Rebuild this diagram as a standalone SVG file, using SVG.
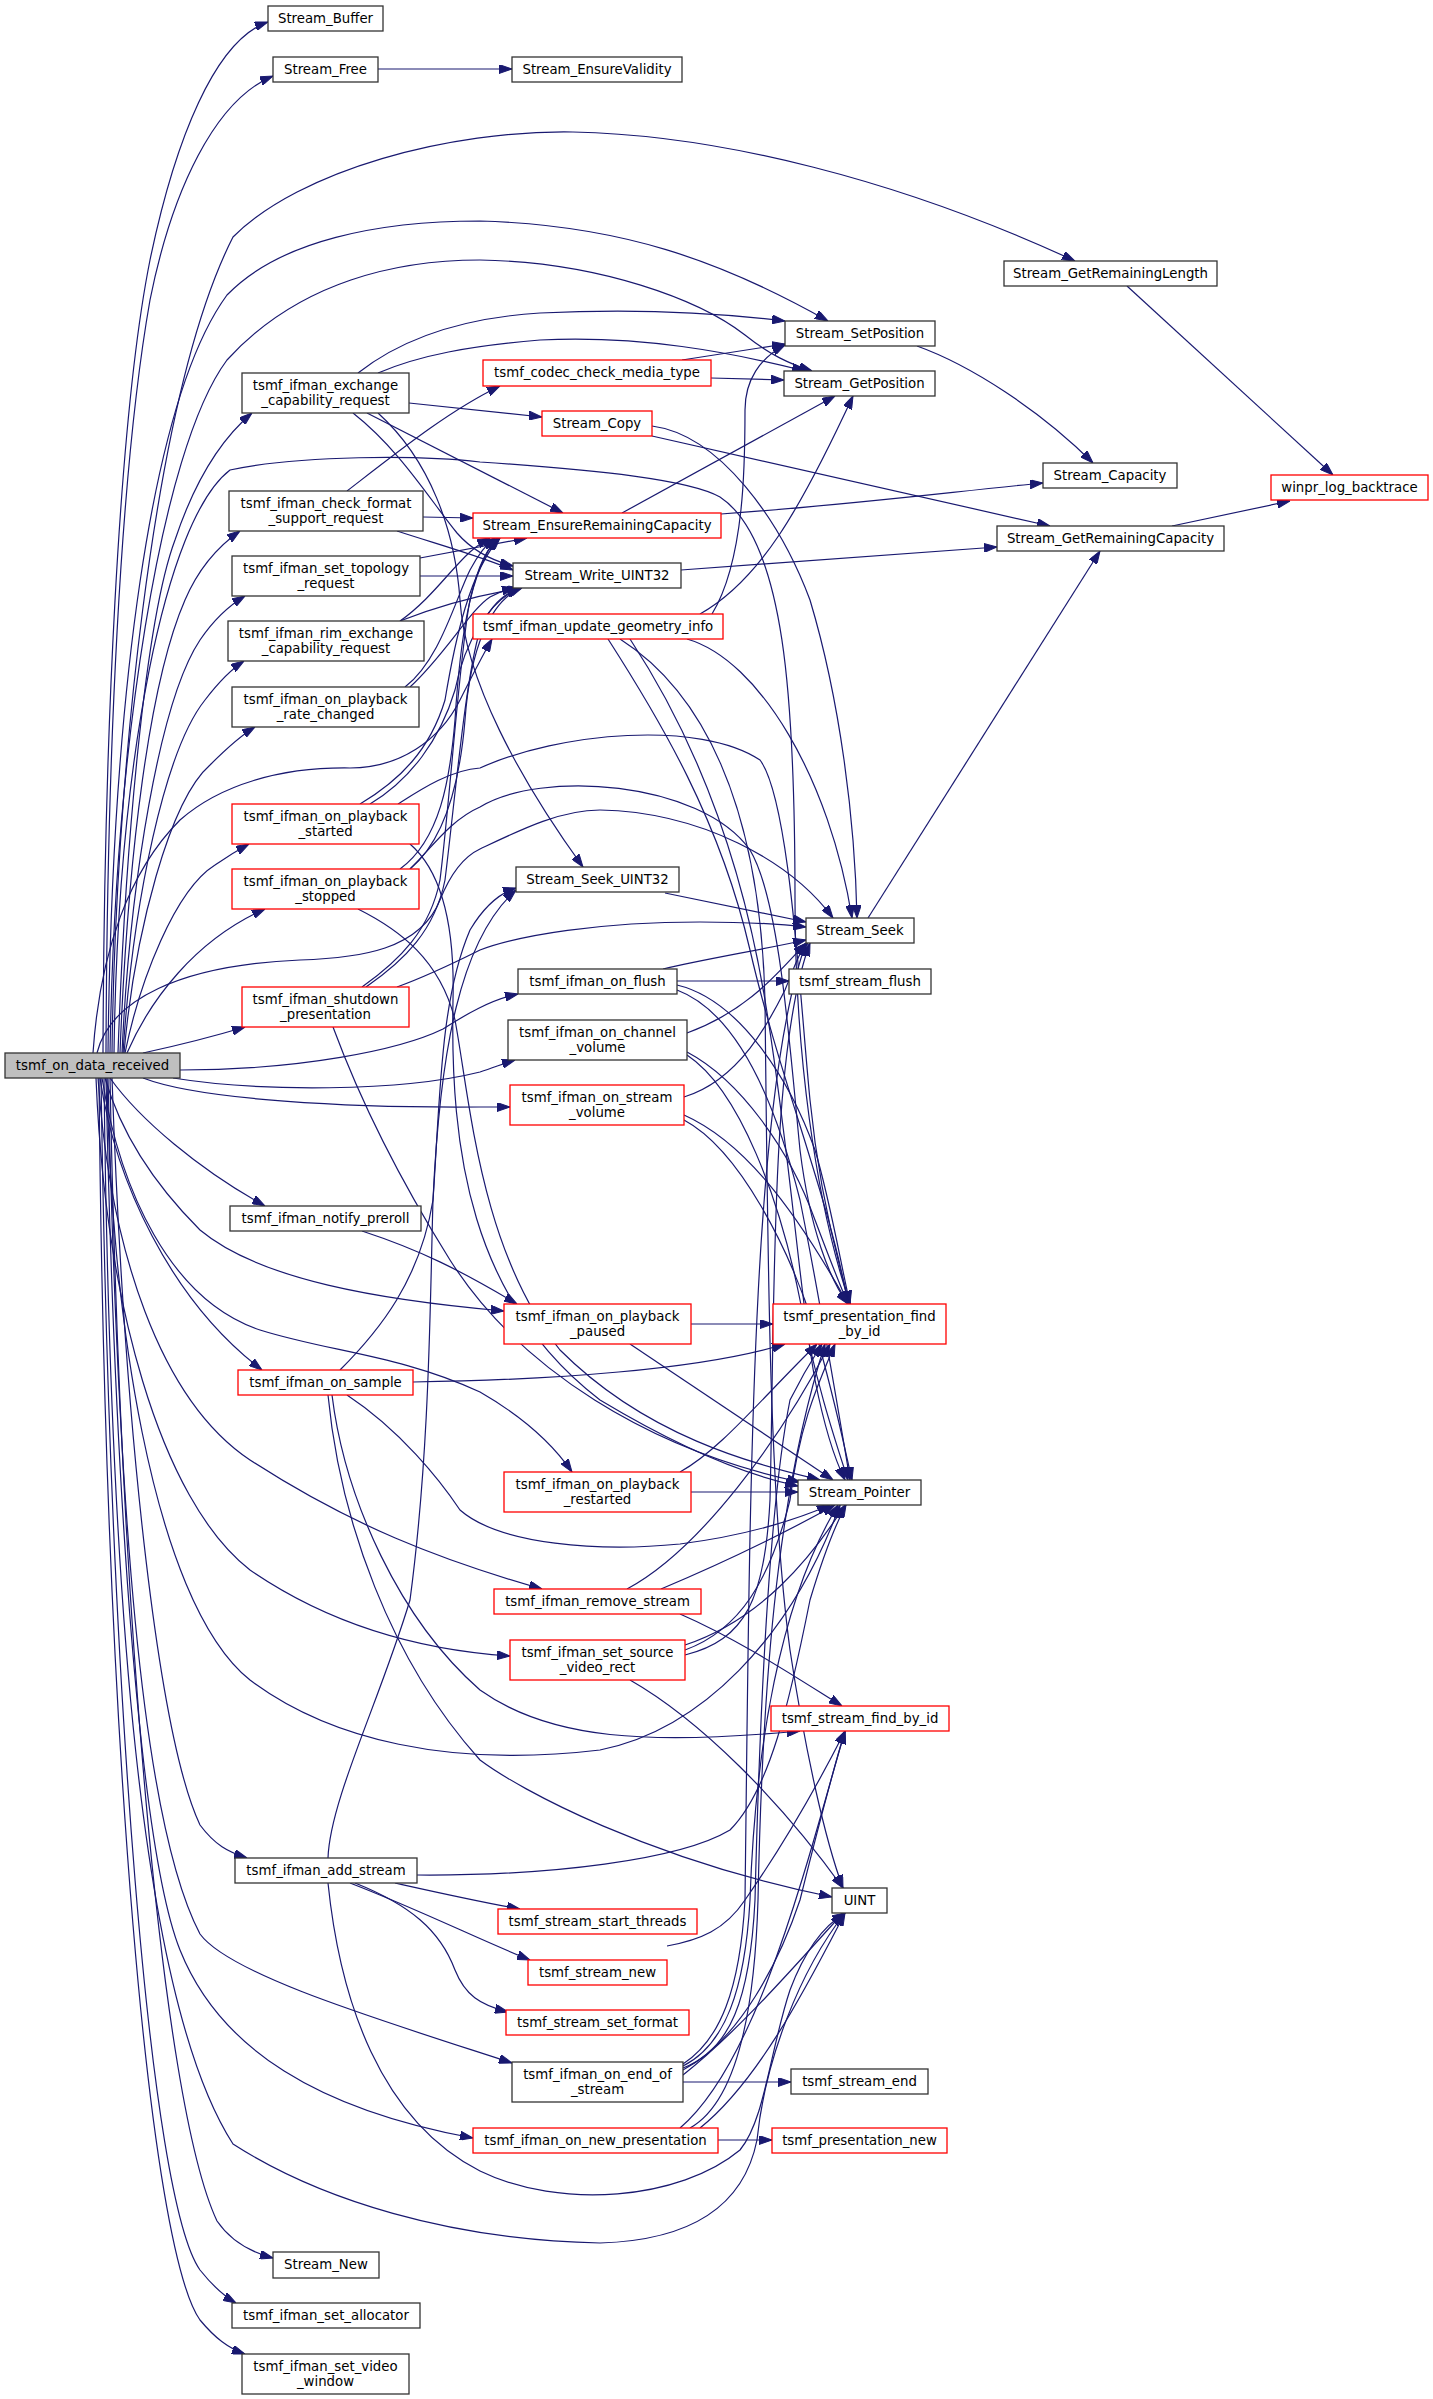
<svg xmlns="http://www.w3.org/2000/svg" width="1433" height="2399" viewBox="0 0 1433 2399">
<style>
.e{fill:none;stroke:#191970;stroke-width:1.2;marker-end:url(#a)}
.n rect{fill:#fff;stroke:#333;stroke-width:1.3}
.r rect{fill:#fff;stroke:#ff0000;stroke-width:1.3}
.g rect{fill:#bfbfbf;stroke:#333;stroke-width:1.3}
text{font-family:"DejaVu Sans","Liberation Sans",sans-serif;font-size:13.3px;text-anchor:middle;fill:#000}
</style>
<defs>
<marker id="a" markerWidth="13" markerHeight="9" refX="13" refY="4.5" orient="auto" markerUnits="userSpaceOnUse"><path d="M0,0 L13,4.5 L0,9 z" fill="#191970" stroke="#191970" stroke-width="1"/></marker>
</defs>
<rect x="0" y="0" width="1433" height="2399" fill="#fff"/>
<g id="edges">
<path class="e" d="M103,1053 C104,750 118,420 150,260 C175,140 215,40 268,22"/>
<path class="e" d="M106,1053 C107,760 120,470 150,300 C172,190 215,100 273,76"/>
<path class="e" d="M112,1053 C115,800 150,400 233,237 C300,170 450,130 573,132 C720,135 900,180 1075,261"/>
<path class="e" d="M108,1053 C112,700 150,400 227,295 C280,240 380,221 480,221 C620,225 720,260 828,321"/>
<path class="e" d="M110,1053 C115,750 160,450 227,360 C300,280 400,260 480,260 C600,262 700,300 745,335 C770,355 790,364 812,371"/>
<path class="e" d="M118,1053 C125,850 145,620 175,540 C195,480 220,440 252,413"/>
<path class="e" d="M120,1053 C128,850 150,680 185,600 C200,565 220,545 240,531"/>
<path class="e" d="M122,1053 C130,880 160,700 200,640 C215,618 230,605 245,596"/>
<path class="e" d="M123,1053 C133,900 165,750 205,700 C218,683 230,670 244,661"/>
<path class="e" d="M124,1053 C135,930 170,800 210,765 C225,750 240,736 255,727"/>
<path class="e" d="M125,1053 C140,980 175,890 215,865 C228,856 238,850 249,844"/>
<path class="e" d="M127,1053 C150,1000 195,940 265,909"/>
<path class="e" d="M143,1053 C180,1045 215,1036 245,1027"/>
<path class="e" d="M93,1053 C100,950 130,870 180,820 C220,785 280,767 350,768 C400,768 440,740 460,700 C470,680 480,660 492,639"/>
<path class="e" d="M114,1053 C118,760 165,520 230,470 C300,455 420,455 480,462 C600,470 690,480 720,497 C785,540 795,700 795,900 C795,1050 815,1200 850,1304"/>
<path class="e" d="M97,1053 C110,1000 180,965 300,960 C360,958 420,950 440,900 C452,870 465,856 480,849 C520,830 560,810 600,810 C700,812 790,860 833,918"/>
<path class="e" d="M180,1070 C300,1070 400,1050 443,1029 C465,1015 490,1000 518,994"/>
<path class="e" d="M173,1078 C260,1092 400,1092 480,1072 C495,1067 505,1063 515,1060"/>
<path class="e" d="M143,1078 C200,1100 350,1108 480,1107 L510,1107"/>
<path class="e" d="M110,1078 C140,1120 200,1170 265,1206"/>
<path class="e" d="M105,1078 C120,1130 150,1180 200,1230 C260,1280 380,1300 504,1311"/>
<path class="e" d="M100,1078 C115,1180 170,1300 262,1370"/>
<path class="e" d="M102,1078 C120,1190 170,1300 260,1330 C330,1352 400,1355 480,1392 C520,1415 550,1440 572,1472"/>
<path class="e" d="M98,1078 C110,1250 160,1400 250,1460 C350,1525 440,1560 542,1589"/>
<path class="e" d="M96,1078 C105,1300 160,1500 250,1570 C330,1625 420,1650 510,1656"/>
<path class="e" d="M107,1078 C110,1300 150,1600 250,1680 C330,1740 450,1768 600,1750 C700,1730 790,1640 840,1505"/>
<path class="e" d="M112,1078 C125,1450 160,1740 200,1825 C215,1845 228,1852 247,1858"/>
<path class="e" d="M108,1078 C118,1500 140,1820 200,1934 C230,1975 380,2020 512,2063"/>
<path class="e" d="M106,1078 C115,1500 140,1850 180,1950 C220,2050 320,2110 473,2138"/>
<path class="e" d="M104,1078 C110,1600 140,2000 233,2144 C320,2200 450,2240 600,2243 C700,2240 745,2200 757,2140 C765,2060 800,1970 845,1913"/>
<path class="e" d="M110,1078 C120,1600 160,2100 217,2221 C230,2240 250,2252 273,2258"/>
<path class="e" d="M101,1078 C110,1700 150,2200 200,2270 C212,2285 222,2295 236,2303"/>
<path class="e" d="M99,1078 C105,1750 150,2250 200,2320 C215,2338 228,2348 245,2354"/>
<path class="e" d="M378,69 L512,69"/>
<path class="e" d="M358,373 C400,340 460,318 540,313 C640,308 720,313 785,321"/>
<path class="e" d="M378,373 C420,355 470,346 540,340 C640,335 730,352 805,371"/>
<path class="e" d="M409,403 L542,417"/>
<path class="e" d="M367,413 L563,513"/>
<path class="e" d="M353,413 C400,450 430,500 457,533 C470,548 490,560 513,566"/>
<path class="e" d="M378,413 C430,460 455,530 460,600 C465,680 520,780 583,867"/>
<path class="e" d="M347,491 C400,450 450,410 500,386"/>
<path class="e" d="M423,517 L473,518"/>
<path class="e" d="M397,531 C440,545 480,556 513,570"/>
<path class="e" d="M682,360 L785,344"/>
<path class="e" d="M711,378 L784,380"/>
<path class="e" d="M652,426 C720,435 780,520 810,600 C840,700 855,820 857,918"/>
<path class="e" d="M652,436 L1050,526"/>
<path class="e" d="M622,513 L835,396"/>
<path class="e" d="M721,514 C850,505 950,492 1043,483"/>
<path class="e" d="M681,570 L997,547"/>
<path class="e" d="M1127,286 L1333,475"/>
<path class="e" d="M1172,526 L1290,501"/>
<path class="e" d="M917,346 C970,365 1040,410 1093,463"/>
<path class="e" d="M868,918 L1100,551"/>
<path class="e" d="M420,558 L527,538"/>
<path class="e" d="M420,576 L513,576"/>
<path class="e" d="M400,621 C430,600 450,570 470,552 C478,545 484,541 490,538"/>
<path class="e" d="M400,621 C440,605 480,595 520,588"/>
<path class="e" d="M405,687 C440,660 455,600 470,570 C478,555 485,545 495,538"/>
<path class="e" d="M410,687 C445,655 470,610 490,597 C497,593 505,590 515,588"/>
<path class="e" d="M360,804 C400,780 430,750 445,700 C455,640 470,570 500,538"/>
<path class="e" d="M370,804 C410,780 440,740 455,690 C465,640 490,600 520,588"/>
<path class="e" d="M398,804 C420,790 450,770 480,768 C560,732 700,720 760,760 C790,800 800,1000 810,1100 C820,1200 840,1270 850,1304"/>
<path class="e" d="M410,844 C440,870 455,920 453,1000 C450,1150 470,1300 600,1400 C700,1460 760,1478 798,1486"/>
<path class="e" d="M400,869 C440,840 450,780 455,720 C460,640 470,570 497,538"/>
<path class="e" d="M410,869 C445,840 460,780 465,720 C470,650 490,600 522,588"/>
<path class="e" d="M410,869 C430,850 450,820 480,807 C540,770 700,780 750,850 C780,900 790,1050 800,1150 C810,1230 830,1280 848,1304"/>
<path class="e" d="M358,909 C400,930 440,960 455,1020 C470,1100 480,1250 560,1350 C650,1440 760,1465 820,1480"/>
<path class="e" d="M362,987 C400,960 430,930 440,880 C450,800 460,650 470,600 C478,565 488,545 500,538"/>
<path class="e" d="M366,987 C405,960 435,930 445,880 C455,800 465,680 480,630 C490,605 505,593 520,588"/>
<path class="e" d="M397,987 C430,975 460,960 480,950 C520,935 600,922 700,922 C750,922 780,924 806,927"/>
<path class="e" d="M333,1027 C360,1100 400,1180 450,1260 C520,1370 650,1450 800,1482"/>
<path class="e" d="M712,614 C745,560 745,460 745,410 C745,380 760,358 785,345"/>
<path class="e" d="M700,614 C760,580 800,510 853,396"/>
<path class="e" d="M687,639 C760,660 830,780 852,918"/>
<path class="e" d="M608,639 C660,720 720,820 750,950 C780,1080 830,1200 848,1304"/>
<path class="e" d="M630,639 C690,730 740,850 765,1000 C790,1150 800,1300 815,1380 C825,1430 835,1460 845,1480"/>
<path class="e" d="M620,639 C700,690 760,800 765,1000 C768,1300 770,1500 790,1650 C805,1750 825,1840 843,1888"/>
<path class="e" d="M665,893 L806,922"/>
<path class="e" d="M677,981 L789,981"/>
<path class="e" d="M663,969 C700,960 760,950 806,940"/>
<path class="e" d="M677,985 C740,1000 790,1080 815,1150 C830,1200 840,1260 850,1304"/>
<path class="e" d="M677,990 C730,1010 770,1080 800,1200 C820,1300 840,1420 850,1480"/>
<path class="e" d="M687,1033 C750,1010 780,970 806,943"/>
<path class="e" d="M687,1052 C740,1080 790,1150 815,1220 C830,1260 840,1285 848,1304"/>
<path class="e" d="M687,1055 C740,1090 780,1200 800,1300 C815,1380 835,1440 848,1480"/>
<path class="e" d="M684,1097 C740,1080 770,1020 785,990 C795,965 800,950 808,943"/>
<path class="e" d="M684,1115 C740,1140 790,1200 848,1304"/>
<path class="e" d="M684,1120 C740,1150 790,1250 815,1330 C835,1400 845,1450 852,1480"/>
<path class="e" d="M362,1231 C420,1250 460,1270 517,1304"/>
<path class="e" d="M691,1324 L773,1324"/>
<path class="e" d="M630,1344 L833,1480"/>
<path class="e" d="M413,1382 C550,1380 700,1370 785,1344"/>
<path class="e" d="M347,1395 C400,1430 440,1480 460,1510 C500,1545 600,1552 680,1544 C750,1535 800,1518 830,1505"/>
<path class="e" d="M340,1370 C380,1330 420,1280 433,1200 C440,1100 440,1000 470,930 C485,905 500,893 516,888"/>
<path class="e" d="M328,1395 C340,1520 390,1660 480,1760 C520,1790 650,1860 832,1897"/>
<path class="e" d="M332,1395 C345,1500 400,1620 480,1690 C550,1740 650,1745 800,1731"/>
<path class="e" d="M680,1472 C720,1450 760,1400 817,1344"/>
<path class="e" d="M691,1492 L798,1492"/>
<path class="e" d="M627,1589 C700,1550 780,1440 830,1344"/>
<path class="e" d="M661,1589 C730,1560 790,1530 835,1505"/>
<path class="e" d="M680,1614 C740,1640 800,1680 842,1706"/>
<path class="e" d="M685,1650 C740,1630 770,1580 790,1500 C800,1420 820,1380 835,1344"/>
<path class="e" d="M685,1645 C760,1620 810,1560 845,1505"/>
<path class="e" d="M630,1680 C700,1720 780,1800 843,1888"/>
<path class="e" d="M685,1655 C745,1640 765,1600 770,1500 C775,1300 770,1050 810,943"/>
<path class="e" d="M395,1883 C440,1893 480,1902 520,1909"/>
<path class="e" d="M350,1883 C420,1910 480,1940 530,1960"/>
<path class="e" d="M355,1883 C410,1905 440,1930 455,1970 C465,1995 480,2005 508,2012"/>
<path class="e" d="M417,1875 C550,1876 680,1860 730,1830 C770,1790 790,1700 810,1600 C825,1550 838,1520 846,1505"/>
<path class="e" d="M328,1883 C340,2000 380,2120 480,2171 C560,2210 680,2200 740,2150 C765,2120 770,2050 790,1990 C805,1950 825,1925 845,1913"/>
<path class="e" d="M328,1858 C330,1800 380,1700 410,1600 C430,1450 430,1300 433,1200 C440,1050 460,940 516,890"/>
<path class="e" d="M667,1946 C700,1940 725,1930 745,1900 C780,1850 815,1790 845,1731"/>
<path class="e" d="M683,2082 L791,2082"/>
<path class="e" d="M683,2075 C740,2030 800,1960 843,1913"/>
<path class="e" d="M683,2070 C740,2040 780,1960 800,1900 C815,1840 830,1780 845,1731"/>
<path class="e" d="M683,2068 C730,2050 750,2000 755,1900 C760,1700 770,1500 790,1400 C805,1370 815,1355 822,1344"/>
<path class="e" d="M683,2066 C725,2045 745,1990 750,1900 C755,1750 780,1600 838,1505"/>
<path class="e" d="M683,2064 C720,2040 740,1990 745,1900 C750,1500 750,1100 806,943"/>
<path class="e" d="M718,2140 L772,2140"/>
<path class="e" d="M700,2128 C760,2080 810,1980 845,1913"/>
<path class="e" d="M690,2128 C740,2100 755,2000 758,1900 C762,1700 775,1500 825,1344"/>
<path class="e" d="M680,2128 C760,2060 810,1850 845,1731"/>
</g>
<g id="root" class="g"><rect x="5" y="1053" width="175" height="25"/><text x="92.5" y="1070">tsmf_on_data_received</text></g>
<g id="n-buf" class="n"><rect x="268" y="6" width="115" height="25"/><text x="325.5" y="23">Stream_Buffer</text></g>
<g id="n-free" class="n"><rect x="273" y="57" width="105" height="25"/><text x="325.5" y="74">Stream_Free</text></g>
<g id="n-valid" class="n"><rect x="512" y="57" width="170" height="25"/><text x="597" y="74">Stream_EnsureValidity</text></g>
<g id="n-grl" class="n"><rect x="1004" y="261" width="213" height="25"/><text x="1110.5" y="278">Stream_GetRemainingLength</text></g>
<g id="n-setpos" class="n"><rect x="785" y="321" width="150" height="25"/><text x="860" y="338">Stream_SetPosition</text></g>
<g id="n-getpos" class="n"><rect x="784" y="371" width="151" height="25"/><text x="859.5" y="388">Stream_GetPosition</text></g>
<g id="n-codec" class="r"><rect x="483" y="360" width="228" height="26"/><text x="597" y="377">tsmf_codec_check_media_type</text></g>
<g id="n-copy" class="r"><rect x="542" y="411" width="110" height="25"/><text x="597" y="428">Stream_Copy</text></g>
<g id="n-cap" class="n"><rect x="1043" y="463" width="134" height="25"/><text x="1110" y="480">Stream_Capacity</text></g>
<g id="n-winpr" class="r"><rect x="1271" y="475" width="157" height="25"/><text x="1349.5" y="492">winpr_log_backtrace</text></g>
<g id="n-erc" class="r"><rect x="473" y="513" width="248" height="25"/><text x="597" y="530">Stream_EnsureRemainingCapacity</text></g>
<g id="n-grc" class="n"><rect x="997" y="526" width="227" height="25"/><text x="1110.5" y="543">Stream_GetRemainingCapacity</text></g>
<g id="n-w32" class="n"><rect x="513" y="563" width="168" height="25"/><text x="597" y="580">Stream_Write_UINT32</text></g>
<g id="n-exch" class="n"><rect x="242" y="373" width="167" height="40"/><text x="325.5" y="389.5">tsmf_ifman_exchange</text><text x="325.5" y="404.5">_capability_request</text></g>
<g id="n-chk" class="n"><rect x="229" y="491" width="194" height="40"/><text x="326" y="507.5">tsmf_ifman_check_format</text><text x="326" y="522.5">_support_request</text></g>
<g id="n-topo" class="n"><rect x="232" y="556" width="188" height="40"/><text x="326" y="572.5">tsmf_ifman_set_topology</text><text x="326" y="587.5">_request</text></g>
<g id="n-rim" class="n"><rect x="228" y="621" width="196" height="40"/><text x="326" y="637.5">tsmf_ifman_rim_exchange</text><text x="326" y="652.5">_capability_request</text></g>
<g id="n-rate" class="n"><rect x="232" y="687" width="187" height="40"/><text x="325.5" y="703.5">tsmf_ifman_on_playback</text><text x="325.5" y="718.5">_rate_changed</text></g>
<g id="n-geom" class="r"><rect x="473" y="614" width="250" height="25"/><text x="598" y="631">tsmf_ifman_update_geometry_info</text></g>
<g id="n-started" class="r"><rect x="232" y="804" width="187" height="40"/><text x="325.5" y="820.5">tsmf_ifman_on_playback</text><text x="325.5" y="835.5">_started</text></g>
<g id="n-stopped" class="r"><rect x="232" y="869" width="187" height="40"/><text x="325.5" y="885.5">tsmf_ifman_on_playback</text><text x="325.5" y="900.5">_stopped</text></g>
<g id="n-seek32" class="n"><rect x="516" y="867" width="163" height="25"/><text x="597.5" y="884">Stream_Seek_UINT32</text></g>
<g id="n-seek" class="n"><rect x="806" y="918" width="108" height="25"/><text x="860" y="935">Stream_Seek</text></g>
<g id="n-flush" class="n"><rect x="518" y="969" width="159" height="25"/><text x="597.5" y="986">tsmf_ifman_on_flush</text></g>
<g id="n-sflush" class="n"><rect x="789" y="969" width="142" height="25"/><text x="860" y="986">tsmf_stream_flush</text></g>
<g id="n-shut" class="r"><rect x="242" y="987" width="167" height="40"/><text x="325.5" y="1003.5">tsmf_ifman_shutdown</text><text x="325.5" y="1018.5">_presentation</text></g>
<g id="n-chan" class="n"><rect x="508" y="1020" width="179" height="40"/><text x="597.5" y="1036.5">tsmf_ifman_on_channel</text><text x="597.5" y="1051.5">_volume</text></g>
<g id="n-svol" class="r"><rect x="510" y="1085" width="174" height="40"/><text x="597" y="1101.5">tsmf_ifman_on_stream</text><text x="597" y="1116.5">_volume</text></g>
<g id="n-preroll" class="n"><rect x="230" y="1206" width="191" height="25"/><text x="325.5" y="1223">tsmf_ifman_notify_preroll</text></g>
<g id="n-paused" class="r"><rect x="504" y="1304" width="187" height="40"/><text x="597.5" y="1320.5">tsmf_ifman_on_playback</text><text x="597.5" y="1335.5">_paused</text></g>
<g id="n-pfind" class="r"><rect x="773" y="1304" width="173" height="40"/><text x="859.5" y="1320.5">tsmf_presentation_find</text><text x="859.5" y="1335.5">_by_id</text></g>
<g id="n-sample" class="r"><rect x="238" y="1370" width="175" height="25"/><text x="325.5" y="1387">tsmf_ifman_on_sample</text></g>
<g id="n-restarted" class="r"><rect x="504" y="1472" width="187" height="40"/><text x="597.5" y="1488.5">tsmf_ifman_on_playback</text><text x="597.5" y="1503.5">_restarted</text></g>
<g id="n-sptr" class="n"><rect x="798" y="1480" width="123" height="25"/><text x="859.5" y="1497">Stream_Pointer</text></g>
<g id="n-remove" class="r"><rect x="494" y="1589" width="207" height="25"/><text x="597.5" y="1606">tsmf_ifman_remove_stream</text></g>
<g id="n-srcrect" class="r"><rect x="510" y="1640" width="175" height="40"/><text x="597.5" y="1656.5">tsmf_ifman_set_source</text><text x="597.5" y="1671.5">_video_rect</text></g>
<g id="n-sfind" class="r"><rect x="771" y="1706" width="178" height="25"/><text x="860" y="1723">tsmf_stream_find_by_id</text></g>
<g id="n-add" class="n"><rect x="235" y="1858" width="182" height="25"/><text x="326" y="1875">tsmf_ifman_add_stream</text></g>
<g id="n-uint" class="n"><rect x="832" y="1888" width="55" height="25"/><text x="859.5" y="1905">UINT</text></g>
<g id="n-threads" class="r"><rect x="498" y="1909" width="199" height="25"/><text x="597.5" y="1926">tsmf_stream_start_threads</text></g>
<g id="n-snew" class="r"><rect x="528" y="1960" width="139" height="25"/><text x="597.5" y="1977">tsmf_stream_new</text></g>
<g id="n-fmt" class="r"><rect x="506" y="2010" width="183" height="25"/><text x="597.5" y="2027">tsmf_stream_set_format</text></g>
<g id="n-eos" class="n"><rect x="512" y="2062" width="171" height="40"/><text x="597.5" y="2078.5">tsmf_ifman_on_end_of</text><text x="597.5" y="2093.5">_stream</text></g>
<g id="n-send" class="n"><rect x="791" y="2069" width="137" height="25"/><text x="859.5" y="2086">tsmf_stream_end</text></g>
<g id="n-newp" class="r"><rect x="473" y="2128" width="245" height="25"/><text x="595.5" y="2145">tsmf_ifman_on_new_presentation</text></g>
<g id="n-pnew" class="r"><rect x="772" y="2128" width="175" height="25"/><text x="859.5" y="2145">tsmf_presentation_new</text></g>
<g id="n-streamnew" class="n"><rect x="273" y="2252" width="106" height="26"/><text x="326" y="2269">Stream_New</text></g>
<g id="n-alloc" class="n"><rect x="232" y="2303" width="188" height="25"/><text x="326" y="2320">tsmf_ifman_set_allocator</text></g>
<g id="n-vwin" class="n"><rect x="242" y="2354" width="167" height="40"/><text x="325.5" y="2370.5">tsmf_ifman_set_video</text><text x="325.5" y="2385.5">_window</text></g>
</svg>
